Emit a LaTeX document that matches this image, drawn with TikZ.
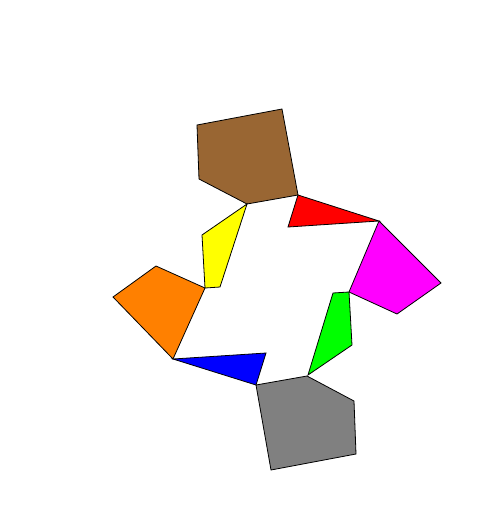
\documentclass[tikz,border=0pt]{standalone}
\usepackage{tikz}
\definecolor{piecebrown}{RGB}{153,102,51}
\definecolor{pieceorange}{RGB}{255,128,0}
\definecolor{piecegreen}{RGB}{0,255,0}
\definecolor{piecegray}{RGB}{128,128,128}
\definecolor{pieceyellow}{RGB}{255,255,0}
\definecolor{piecemagenta}{RGB}{255,0,255}
\definecolor{piecered}{RGB}{255,0,0}
\definecolor{pieceblue}{RGB}{0,0,255}
\begin{document}
\begin{tikzpicture}[
  x=0.5pt, y=-0.5pt,
  piece/.style={draw=black, line width=0.4pt, line join=miter, fill=#1}
]
  % Frame
  \useasboundingbox (0,0) rectangle (500,526);

  % Pentagons
  \draw[piece=piecebrown] (197,125) -- (282,109) -- (298,195) -- (247,204) -- (199,179) -- cycle;
  \draw[piece=piecegray] (256,385) -- (307,376) -- (354,401) -- (356,454) -- (271,470) -- cycle;

  % Quadrilaterals
  \draw[piece=pieceyellow] (247,204) -- (202,235) -- (205,288) -- (220,287) -- cycle;
  \draw[piece=pieceorange] (156,266) -- (113,297) -- (173,359) -- (205,288) -- cycle;
  \draw[piece=piecemagenta] (379,221) -- (441,283) -- (397,314) -- (349,292) -- cycle;
  \draw[piece=piecegreen] (349,292) -- (333,293) -- (308,375) -- (352,345) -- cycle;

  % Triangles
  \draw[piece=piecered] (298,195) -- (379,221) -- (288,227) -- cycle;
  \draw[piece=pieceblue] (173,359) -- (266,353) -- (256,385) -- cycle;
\end{tikzpicture}
\end{document}
